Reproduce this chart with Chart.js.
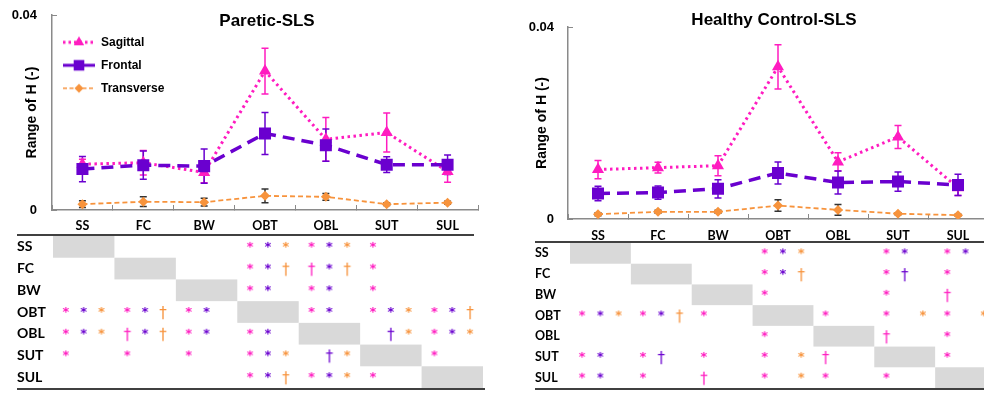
<!DOCTYPE html>
<html>
<head>
<meta charset="utf-8">
<script src="https://cdn.jsdelivr.net/npm/chart.js@4.4.0/dist/chart.umd.min.js"></script>
<style>
  body { margin: 0; background: #fff; }
  #wrap { position: relative; width: 984px; height: 395px; overflow: hidden; }
  canvas { position: absolute; }
</style>
</head>
<body>
<div id="wrap">
  <canvas id="pLine" width="490" height="232" style="left:0;top:0"></canvas>
  <canvas id="pTab" width="490" height="167" style="left:0;top:228px"></canvas>
  <canvas id="hLine" width="520" height="245" style="left:490px;top:0"></canvas>
  <canvas id="hTab" width="520" height="159" style="left:490px;top:236px"></canvas>
</div>
<script>
// Datos
const categories = ['SS', 'FC', 'BW', 'OBT', 'OBL', 'SUT', 'SUL'];
const yTicks = [0, 0.04];

// Paretic-SLS
const pareticSagittal = [0.0094, 0.0097, 0.0077, 0.0285, 0.0145, 0.0159, 0.0079];
const pareticSagittalErr = [0.0010, 0.0025, 0.0021, 0.0047, 0.0045, 0.0040, 0.0022];
const pareticFrontal = [0.0084, 0.0092, 0.0090, 0.0157, 0.0133, 0.0093, 0.0093];
const pareticFrontalErr = [0.0026, 0.0029, 0.0035, 0.0043, 0.0033, 0.0016, 0.0020];
const pareticTransverse = [0.0012, 0.0017, 0.0016, 0.0029, 0.0027, 0.0012, 0.0015];
const pareticTransverseErr = [0.0007, 0.0010, 0.0008, 0.0014, 0.0007, 0.0003, 0.0003];

// Healthy Control-SLS
const healthySagittal = [0.0103, 0.0107, 0.0111, 0.0317, 0.0119, 0.0171, 0.0065];
const healthySagittalErr = [0.0019, 0.0011, 0.0021, 0.0046, 0.0019, 0.0024, 0.0016];
const healthyFrontal = [0.0053, 0.0055, 0.0063, 0.0096, 0.0076, 0.0078, 0.0071];
const healthyFrontalErr = [0.0015, 0.0014, 0.0019, 0.0023, 0.0024, 0.0020, 0.0022];
const healthyTransverse = [0.0010, 0.0015, 0.0015, 0.0028, 0.0019, 0.0011, 0.0008];
const healthyTransverseErr = [0.0003, 0.0003, 0.0003, 0.0012, 0.0011, 0.0002, 0.0002];

// Tablas de significancia: cada celda = [sagital, frontal, transversal]
// '*' asterisco, 't' daga, '-' nada
const pareticSig = [
  ['', '', '', '***', '***', '*--', ''],
  ['', '', '', '**t', 't*t', '*--', ''],
  ['', '', '', '**-', '**-', '*--', ''],
  ['***', '**t', '**-', '', '**-', '***', '**t'],
  ['***', 't*t', '**-', '**-', '', '-t*', '***'],
  ['*--', '*--', '*--', '***', '-t*', '', '*--'],
  ['', '', '', '**t', '***', '*--', '']
];
const healthySig = [
  ['', '', '', '***', '', '**-', '**-'],
  ['', '', '', '**t', '', '*t-', '*--'],
  ['', '', '', '*--', '', '*--', 't--'],
  ['***', '**t', '*--', '', '*--', '*-*', '*-*'],
  ['', '', '', '*--', '', 't--', '*--'],
  ['**-', '*t-', '*--', '*-*', 't--', '', '*--'],
  ['**-', '*--', 't--', '*-*', '*--', '*--', '']
];

// Estilos
const SAG = '#FF1CC0';
const FRO = '#6A00CF';
const TRA = '#F7933C';
const AXIS = '#8a8a8a';
const ARIAL = '"Liberation Sans", Arial, sans-serif';
const LATO = 'Lato, "Open Sans", sans-serif';

// Icono de leyenda: línea + marcador
function legendIcon(color, dash, width, marker, r) {
  const c = document.createElement('canvas');
  c.width = 32; c.height = 16;
  const g = c.getContext('2d');
  g.strokeStyle = color; g.lineWidth = width; g.setLineDash(dash);
  g.beginPath(); g.moveTo(0, 8); g.lineTo(32, 8); g.stroke();
  g.setLineDash([]);
  g.fillStyle = color;
  Chart.helpers.drawPoint(g, { pointStyle: marker, radius: r, borderWidth: 0 }, 16, 8);
  return c;
}

// Símbolo de la tabla (* o †)
function glyph(sym, color) {
  const c = document.createElement('canvas');
  c.width = 12; c.height = 22;
  const g = c.getContext('2d');
  const ch = sym === '*' ? '*' : '\u2020';
  g.font = sym === '*' ? 'bold 13px "DejaVu Sans"' : '15px "DejaVu Sans"';
  g.fillStyle = color;
  g.textAlign = 'center';
  const m = g.measureText(ch);
  const shift = sym === '*' ? -2 : 1;
  g.fillText(ch, 6, 11 + shift + (m.actualBoundingBoxAscent - m.actualBoundingBoxDescent) / 2);
  return c;
}

// Barras de error
const errorBars = {
  id: 'errorBars',
  beforeDatasetsDraw(chart) {
    const ctx = chart.ctx;
    const xs = chart.scales.x, ys = chart.scales.y;
    chart.data.datasets.forEach(ds => {
      ctx.save();
      ctx.strokeStyle = ds.errorColor;
      ctx.lineWidth = 1.5;
      ds.data.forEach((v, i) => {
        const px = xs.getPixelForValue(i);
        const top = ys.getPixelForValue(v + ds.errors[i]);
        const bot = ys.getPixelForValue(v - ds.errors[i]);
        ctx.beginPath();
        ctx.moveTo(px, top); ctx.lineTo(px, bot);
        ctx.moveTo(px - 3.5, top); ctx.lineTo(px + 3.5, top);
        ctx.moveTo(px - 3.5, bot); ctx.lineTo(px + 3.5, bot);
        ctx.stroke();
      });
      ctx.restore();
    });
  }
};

// Título del panel
const panelTitle = {
  id: 'panelTitle',
  afterDraw(chart, args, opts) {
    if (!opts.text) return;
    const ctx = chart.ctx;
    ctx.save();
    ctx.font = 'bold 17px ' + ARIAL;
    ctx.fillStyle = '#000';
    ctx.textAlign = 'center';
    ctx.textBaseline = 'middle';
    ctx.fillText(opts.text, opts.x, opts.y);
    ctx.restore();
  }
};

// Celdas grises de la diagonal y bordes de la tabla
const tableFrame = {
  id: 'tableFrame',
  beforeDatasetsDraw(chart) {
    const ctx = chart.ctx;
    const xs = chart.scales.x, ys = chart.scales.y;
    ctx.save();
    ctx.fillStyle = '#D9D9D9';
    categories.forEach((c, i) => {
      const x0 = xs.getPixelForValue(i - 0.5), x1 = xs.getPixelForValue(i + 0.5);
      const y0 = ys.getPixelForValue(i - 0.5), y1 = ys.getPixelForValue(i + 0.5);
      ctx.fillRect(x0, y0, x1 - x0, y1 - y0);
    });
    ctx.restore();
  },
  afterDraw(chart, args, opts) {
    const ctx = chart.ctx;
    const a = chart.chartArea;
    ctx.save();
    ctx.strokeStyle = '#404040';
    ctx.lineWidth = 2;
    ctx.beginPath();
    ctx.moveTo(opts.x0, a.top - 1); ctx.lineTo(opts.x1, a.top - 1);
    ctx.moveTo(opts.x0, a.bottom + 1); ctx.lineTo(opts.x2, a.bottom + 1);
    ctx.stroke();
    ctx.restore();
  }
};

// Quitar el relleno automático de las escalas para fijar el área del gráfico
function noPad(s) {
  s.paddingTop = 0; s.paddingBottom = 0; s.paddingLeft = 0; s.paddingRight = 0;
}

function lineChart(id, sag, sagErr, fro, froErr, tra, traErr, o) {
  const axisFont = { family: LATO, size: 12.5, weight: 'bold' };
  return new Chart(document.getElementById(id), {
    type: 'line',
    data: {
      labels: categories,
      datasets: [
        {
          label: 'Sagittal', data: sag, errors: sagErr, errorColor: SAG,
          borderColor: SAG, backgroundColor: SAG, borderWidth: 3, borderDash: [2.5, 3.5],
          pointStyle: 'triangle', pointRadius: 7, pointBorderWidth: 0, order: 1,
          icon: legendIcon(SAG, [2.5, 3], 3, 'triangle', 6)
        },
        {
          label: 'Frontal', data: fro, errors: froErr, errorColor: FRO,
          borderColor: FRO, backgroundColor: FRO, borderWidth: 3.5, borderDash: [12, 7],
          pointStyle: 'rect', pointRadius: 8.5, pointBorderWidth: 0, order: 0,
          icon: legendIcon(FRO, [], 3, 'rect', 7.5)
        },
        {
          label: 'Transverse', data: tra, errors: traErr, errorColor: '#333',
          borderColor: TRA, backgroundColor: TRA, borderWidth: 1.8, borderDash: [5, 3],
          pointStyle: 'rectRot', pointRadius: 5, pointBorderWidth: 0, order: 2,
          icon: legendIcon(TRA, [4, 2.5], 1.6, 'rectRot', 4.5)
        }
      ]
    },
    options: {
      responsive: false,
      animation: false,
      events: [],
      layout: { padding: o.padding },
      elements: { line: { tension: 0 } },
      scales: {
        x: {
          offset: true,
          grid: { display: true, drawOnChartArea: false, offset: true, tickLength: -5, color: AXIS },
          border: { color: AXIS, width: 1.5 },
          ticks: { padding: o.xPad, color: '#000', font: axisFont },
          afterFit: s => { s.height = o.xH; noPad(s); }
        },
        y: {
          min: 0, max: 0.04,
          afterBuildTicks: s => { s.ticks = yTicks.map(v => ({ value: v })); },
          grid: { display: true, drawOnChartArea: false, tickLength: -5, color: AXIS },
          border: { color: AXIS, width: 1.5 },
          ticks: {
            padding: o.yPad, color: '#000',
            font: { family: ARIAL, size: 13, weight: 'bold' },
            callback: v => String(v)
          },
          title: {
            display: true, text: 'Range of H (-)', color: '#000',
            font: { family: ARIAL, size: 14, weight: 'bold' },
            padding: { top: o.titlePad, bottom: 0 }
          },
          afterFit: s => { s.width = o.yW; noPad(s); }
        }
      },
      plugins: {
        tooltip: { enabled: false },
        panelTitle: o.title,
        legend: {
          display: o.legend,
          fullSize: false,
          position: 'chartArea',
          align: 'start',
          title: { display: true, text: ' ', font: { size: 9 }, padding: { top: 0, bottom: 14.5 } },
          labels: {
            usePointStyle: true,
            pointStyleWidth: 32,
            padding: 11,
            color: '#000',
            font: { family: ARIAL, size: 12, weight: 'bold' },
            generateLabels: chart => chart.data.datasets.map((ds, i) => ({
              text: ds.label, pointStyle: ds.icon, fillStyle: ds.borderColor,
              strokeStyle: ds.borderColor, lineWidth: 0, hidden: false,
              datasetIndex: i, fontColor: '#000'
            }))
          }
        }
      }
    },
    plugins: [errorBars, panelTitle]
  });
}

function tableChart(id, sig, o) {
  const planes = [SAG, FRO, TRA];
  const datasets = [];
  planes.forEach((color, p) => {
    ['*', 't'].forEach(sym => {
      const pts = [];
      sig.forEach((row, r) => row.forEach((cell, c) => {
        if (cell[p] === sym) pts.push({ x: c + (p - 1) * o.slot, y: r });
      }));
      datasets.push({ data: pts, pointStyle: glyph(sym, color), pointRadius: 5, showLine: false });
    });
  });
  return new Chart(document.getElementById(id), {
    type: 'scatter',
    data: { datasets },
    options: {
      responsive: false,
      animation: false,
      events: [],
      layout: { padding: o.padding },
      scales: {
        x: { type: 'linear', min: -0.5, max: 6.5, display: false },
        y: {
          type: 'linear', reverse: true, min: -0.5, max: 6.5,
          afterBuildTicks: s => { s.ticks = categories.map((c, i) => ({ value: i })); },
          grid: { display: false },
          border: { display: false },
          ticks: {
            crossAlign: 'far', color: '#000', autoSkip: false,
            font: { family: LATO, size: o.rowSize, weight: 'bold' },
            callback: v => categories[v]
          },
          afterFit: s => { s.width = o.yW; noPad(s); }
        }
      },
      plugins: {
        legend: { display: false },
        tooltip: { enabled: false },
        tableFrame: o.frame
      }
    },
    plugins: [tableFrame]
  });
}

lineChart('pLine', pareticSagittal, pareticSagittalErr, pareticFrontal, pareticFrontalErr,
  pareticTransverse, pareticTransverseErr, {
    padding: { left: 0, top: 15, right: 12, bottom: 0 },
    xH: 22, xPad: 13, yW: 52, yPad: 20, titlePad: 23.6, legend: true,
    title: { text: 'Paretic-SLS', x: 267, y: 21 }
  });

lineChart('hLine', healthySagittal, healthySagittalErr, healthyFrontal, healthyFrontalErr,
  healthyTransverse, healthyTransverseErr, {
    padding: { left: 0, top: 27, right: 22, bottom: 0 },
    xH: 26, xPad: 14, yW: 78, yPad: 19, titlePad: 43.6, legend: false,
    title: { text: 'Healthy Control-SLS', x: 284, y: 20 }
  });

tableChart('pTab', pareticSig, {
  padding: { left: 17, top: 8, right: 7, bottom: 7 },
  yW: 36, rowSize: 14, slot: 0.29,
  frame: { x0: 17, x1: 474, x2: 485 }
});

tableChart('hTab', healthySig, {
  padding: { left: 45, top: 7, right: 14, bottom: 7 },
  yW: 35, rowSize: 12.5, slot: 0.3,
  frame: { x0: 45, x1: 520, x2: 520 }
});
</script>
</body>
</html>
